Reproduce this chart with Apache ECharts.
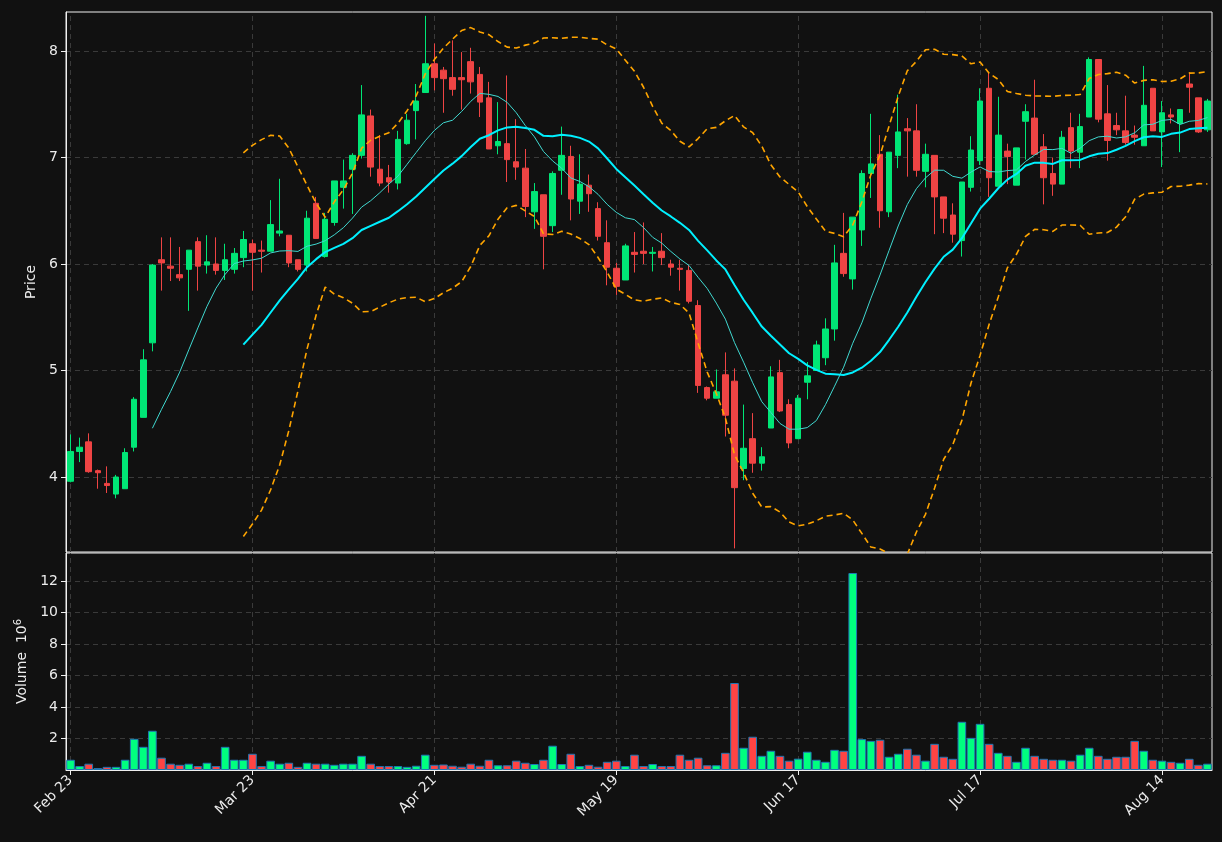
<!DOCTYPE html>
<html><head><meta charset="utf-8">
<script src="https://cdn.jsdelivr.net/npm/echarts@6/dist/echarts.min.js"></script>
<style>html,body{margin:0;padding:0;background:#111111;}#c{width:1222px;height:842px;}</style>
</head><body><div id="c"></div>
<script>
// OHLC values
const opens  = [3.96,4.24,4.33,4.06,3.94,3.84,3.89,4.28,4.56,5.26,6.04,5.98,5.90,5.95,6.21,5.99,6.00,5.94,5.95,6.06,6.19,6.13,6.12,6.29,6.27,6.04,5.99,6.57,6.07,6.39,6.72,6.89,7.02,7.39,6.89,6.81,6.76,7.13,7.44,7.61,7.88,7.82,7.75,7.75,7.90,7.78,7.56,7.11,7.13,6.96,6.90,6.49,6.65,6.36,6.88,7.01,6.59,6.74,6.52,6.20,5.96,5.85,6.11,6.12,6.10,6.12,6.00,5.96,5.94,5.61,4.84,4.74,4.96,4.90,4.08,4.36,4.13,4.46,4.98,4.68,4.36,4.89,5.00,5.12,5.39,6.10,5.86,6.32,6.85,7.03,6.49,7.02,7.27,7.25,6.87,7.02,6.63,6.46,6.22,6.72,6.97,7.65,6.73,7.06,6.74,7.34,7.37,7.10,6.85,6.75,7.28,7.05,7.38,7.92,7.41,7.30,7.25,7.21,7.11,7.65,7.24,7.40,7.32,7.69,7.56,7.26];
const closes = [4.24,4.28,4.05,4.04,3.92,4.00,4.23,4.73,5.10,5.99,6.01,5.96,5.87,6.13,5.98,6.02,5.94,6.04,6.10,6.23,6.11,6.12,6.37,6.31,6.01,5.95,6.43,6.24,6.42,6.78,6.78,7.02,7.40,6.91,6.76,6.77,7.17,7.35,7.53,7.88,7.75,7.74,7.64,7.73,7.71,7.52,7.08,7.15,6.98,6.91,6.54,6.68,6.26,6.85,7.02,6.61,6.75,6.66,6.26,5.97,5.79,6.17,6.09,6.10,6.11,6.06,5.97,5.95,5.65,4.86,4.74,4.80,4.58,3.90,4.27,4.13,4.19,4.94,4.62,4.32,4.74,4.95,5.24,5.39,6.01,5.91,6.44,6.85,6.94,6.50,7.05,7.24,7.25,6.88,7.03,6.63,6.43,6.28,6.77,7.07,7.53,6.81,7.21,7.01,7.09,7.43,7.03,6.81,6.75,7.19,7.06,7.29,7.92,7.36,7.16,7.26,7.14,7.19,7.49,7.25,7.42,7.38,7.45,7.66,7.24,7.53];
const lows   = [3.95,4.14,4.04,3.89,3.85,3.80,3.89,4.24,4.56,5.18,5.75,5.84,5.84,5.56,5.75,5.91,5.90,5.85,5.91,5.97,5.75,5.92,6.12,6.26,5.97,5.93,5.93,6.24,6.06,6.36,6.52,6.47,6.99,6.82,6.73,6.67,6.70,7.12,7.17,7.61,7.63,7.42,7.58,7.45,7.60,7.38,7.08,7.03,6.77,6.79,6.44,6.33,5.95,6.30,6.65,6.41,6.47,6.49,6.22,5.80,5.71,5.85,5.92,6.00,5.93,5.99,5.89,5.75,5.63,4.79,4.72,4.74,4.38,3.33,3.97,4.04,4.06,4.46,4.61,4.27,4.36,4.73,5.00,5.05,5.28,5.88,5.76,6.17,6.62,6.34,6.44,6.90,6.82,6.82,6.72,6.28,6.29,6.20,6.07,6.68,6.93,6.63,6.73,6.75,6.74,6.98,7.03,6.56,6.64,6.75,6.90,6.90,7.38,7.33,6.97,7.21,7.12,7.12,7.11,7.25,6.91,7.32,7.05,7.42,7.23,7.24];
const highs  = [4.40,4.37,4.41,4.07,4.10,4.02,4.27,4.75,5.20,6.00,6.25,6.25,6.16,6.13,6.25,6.27,6.25,6.19,6.15,6.31,6.23,6.22,6.60,6.80,6.27,6.04,6.50,6.63,6.48,6.78,6.98,7.04,7.68,7.45,7.21,6.93,7.25,7.41,7.69,8.33,8.07,7.85,8.10,7.99,8.03,7.85,7.71,7.52,7.77,7.36,7.08,6.76,6.65,6.87,7.29,7.11,7.03,6.84,6.58,6.41,6.01,6.19,6.30,6.39,6.16,6.29,6.04,6.04,5.99,5.66,4.85,5.01,5.17,5.02,4.68,4.60,4.28,5.04,5.10,4.73,4.77,5.08,5.28,5.49,6.18,6.48,6.44,6.88,7.41,7.21,7.05,7.59,7.37,7.50,7.13,7.02,6.63,6.57,6.77,7.20,7.65,7.80,7.57,7.13,7.09,7.50,7.73,7.22,7.00,7.25,7.42,7.41,7.94,7.92,7.68,7.42,7.58,7.30,7.86,7.65,7.53,7.46,7.45,7.80,7.56,7.55];
// Volume (millions)
const volumes = [0.65,0.25,0.40,0.12,0.20,0.20,0.65,1.98,1.47,2.49,0.78,0.40,0.33,0.40,0.25,0.46,0.25,1.47,0.65,0.65,1.03,0.25,0.59,0.40,0.46,0.20,0.46,0.40,0.40,0.33,0.40,0.40,0.90,0.40,0.25,0.25,0.25,0.20,0.27,0.97,0.33,0.35,0.27,0.21,0.40,0.27,0.65,0.30,0.30,0.59,0.46,0.38,0.65,1.54,0.38,1.03,0.25,0.33,0.21,0.52,0.59,0.25,0.97,0.25,0.38,0.25,0.25,0.97,0.65,0.78,0.30,0.30,1.09,5.52,1.41,2.11,0.90,1.22,0.90,0.59,0.72,1.16,0.65,0.52,1.28,1.22,12.5,1.96,1.85,1.92,0.84,1.03,1.35,0.97,0.59,1.66,0.84,0.71,3.06,2.04,2.93,1.66,1.09,0.90,0.52,1.41,0.90,0.71,0.65,0.65,0.59,0.97,1.41,0.90,0.71,0.84,0.84,1.85,1.22,0.65,0.59,0.52,0.46,0.71,0.33,0.40];
const priceTicks = [4,5,6,7,8];
const volumeTicks = [2,4,6,8,10,12];
const holidays = ['2026-04-03','2026-05-25','2026-06-19','2026-07-03'];
const months = ['Jan','Feb','Mar','Apr','May','Jun','Jul','Aug','Sep','Oct','Nov','Dec'];

const dates = [];
let d = new Date(Date.UTC(2026,1,23));
while (dates.length < closes.length) {
  const iso = d.toISOString().slice(0,10);
  const wd = d.getUTCDay();
  if (wd !== 0 && wd !== 6 && holidays.indexOf(iso) < 0) dates.push(months[d.getUTCMonth()] + ' ' + d.getUTCDate());
  d = new Date(d.getTime() + 86400000);
}
const candle = closes.map((c,i)=>[opens[i], c, lows[i], highs[i]]);
function ma(n){ return closes.map((c,i)=> i<n-1 ? '-' : +(closes.slice(i-n+1,i+1).reduce((a,b)=>a+b,0)/n).toFixed(4)); }
function band(n,k){ return closes.map((c,i)=>{ if(i<n-1) return '-'; const w=closes.slice(i-n+1,i+1); const m=w.reduce((a,b)=>a+b,0)/n; const s=Math.sqrt(w.reduce((a,b)=>a+(b-m)*(b-m),0)/n); return +(m+k*s).toFixed(4); }); }
const UP='#00e676', DOWN='#ef4444';
const volData = volumes.map((v,i)=>({value:v, itemStyle:{color: closes[i]>=opens[i] ? '#00ff7f' : '#ff4444'}}));
const tickIdx = i => i % 20 === 0;
const vLines = dates.map((s,i)=>i).filter(tickIdx).map(i=>({xAxis:i}));
const txt = '#ececec';
const grid = '#3a3a3a';
const vMark = {silent:true,z:0,symbol:'none',label:{show:false},lineStyle:{color:grid,type:[5,4],width:1},data:vLines,animation:false};
const blank = dates.map(()=>'-');
const chart = echarts.init(document.getElementById('c'));
chart.setOption({
  backgroundColor:'#111111', animation:false,
  grid:[
    {left:66,right:10,top:12,height:540,show:true,borderColor:'#f0f0f0',borderWidth:1},
    {left:66,right:10,top:553,height:217,show:true,borderColor:'#f0f0f0',borderWidth:1}
  ],
  xAxis:[
    {type:'category',data:dates,gridIndex:0,boundaryGap:true,axisLine:{show:false},axisTick:{show:false},axisLabel:{show:false},splitLine:{show:false}},
    {type:'category',data:dates,gridIndex:1,boundaryGap:true,axisLine:{show:true,lineStyle:{color:'#f0f0f0'}},
     axisTick:{show:true,alignWithLabel:true,interval:(i)=>tickIdx(i),length:5,lineStyle:{color:'#f0f0f0'}},
     axisLabel:{interval:(i)=>tickIdx(i),rotate:45,color:txt,fontSize:14,fontFamily:'DejaVu Sans',margin:8},
     splitLine:{show:false}}
  ],
  yAxis:[
    {type:'value',gridIndex:0,min:3.296,max:8.366,name:'Price',nameLocation:'middle',nameGap:28,
     nameTextStyle:{color:txt,fontSize:14,fontFamily:'DejaVu Sans'},
     axisLine:{show:true,lineStyle:{color:'#f0f0f0'}},
     axisTick:{show:true,customValues:priceTicks,length:5,lineStyle:{color:'#f0f0f0'}},
     axisLabel:{customValues:priceTicks,color:txt,fontSize:14,fontFamily:'DejaVu Sans',margin:8},
     splitLine:{show:true,lineStyle:{color:grid,type:[5,4]}}},
    {type:'value',gridIndex:1,min:0,max:13.77,name:'{a|Volume  10}{b|6}',nameLocation:'middle',nameGap:34,
     nameTextStyle:{color:txt,rich:{a:{fontSize:14,color:txt,fontFamily:'DejaVu Sans'},b:{fontSize:10,color:txt,verticalAlign:'top',padding:[0,0,8,0],fontFamily:'DejaVu Sans'}}},
     axisLine:{show:true,lineStyle:{color:'#f0f0f0'}},
     axisTick:{show:true,customValues:volumeTicks,length:5,lineStyle:{color:'#f0f0f0'}},
     axisLabel:{customValues:volumeTicks,color:txt,fontSize:14,fontFamily:'DejaVu Sans',margin:8},
     splitLine:{show:true,lineStyle:{color:grid,type:[5,4]}}}
  ],
  series:[
    {type:'line',data:blank,xAxisIndex:0,yAxisIndex:0,z:0,showSymbol:false,markLine:vMark},
    {type:'line',data:blank,xAxisIndex:1,yAxisIndex:1,z:0,showSymbol:false,markLine:vMark},
    {type:'candlestick',data:candle,xAxisIndex:0,yAxisIndex:0,barWidth:6,z:3,
     itemStyle:{color:UP,color0:DOWN,borderColor:UP,borderColor0:DOWN,borderWidth:1}},
    {type:'line',data:ma(10),xAxisIndex:0,yAxisIndex:0,showSymbol:false,z:4,lineStyle:{color:'#40d8d0',width:1}},
    {type:'line',data:ma(20),xAxisIndex:0,yAxisIndex:0,showSymbol:false,z:4,lineStyle:{color:'#00f0ff',width:2}},
    {type:'line',data:band(20,2),xAxisIndex:0,yAxisIndex:0,showSymbol:false,z:4,lineStyle:{color:'#ffa500',width:1.6,type:[6,4]}},
    {type:'line',data:band(20,-2),xAxisIndex:0,yAxisIndex:0,showSymbol:false,z:4,lineStyle:{color:'#ffa500',width:1.6,type:[6,4]}},
    {type:'bar',data:volData,xAxisIndex:1,yAxisIndex:1,barCategoryGap:'5%',z:3,itemStyle:{borderColor:'#1f77b4',borderWidth:1}}
  ]
});
</script></body></html>
